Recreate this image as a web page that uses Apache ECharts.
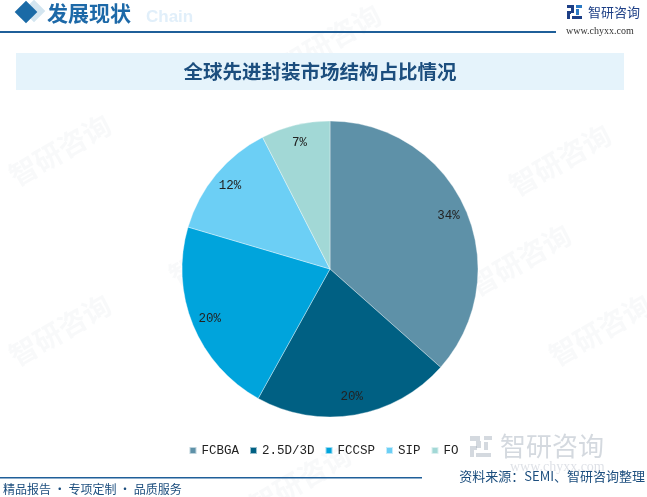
<!DOCTYPE html>
<html><head><meta charset="utf-8">
<script src="https://cdn.jsdelivr.net/npm/echarts@6/dist/echarts.min.js"></script>
<style>html,body{margin:0;padding:0;background:#fff}#c{width:647px;height:497px}</style>
</head><body><div id="c"></div>
<script>
var categories = ['FCBGA', '2.5D/3D', 'FCCSP', 'SIP', 'FO'];
var shares = [34, 20, 20, 12, 7];
var colors = ['#5e91a8', '#006083', '#00a4dc', '#6ccff5', '#a2d8d6'];
var titleText = '全球先进封装市场结构占比情况';
var sourceText = '资料来源：SEMI、智研咨询整理';

var chart = echarts.init(document.getElementById('c'), null, {renderer: 'canvas'});
var data = categories.map(function (n, i) { return {name: n, value: shares[i], itemStyle: {color: colors[i]}}; });
var labelData = categories.map(function (n, i) { return {name: n, value: shares[i]}; });

var wm = [];
[[60,150],[330,40],[560,160],[60,330],[300,480],[600,330],[220,250],[520,260]].forEach(function(p){
  wm.push({type:'text', x:p[0], y:p[1], rotation: Math.PI/6, silent:true, z:0,
    style:{text:'智研咨询', font:'bold 28px "Noto Sans CJK SC"', fill:'rgba(170,180,195,0.08)', textAlign:'center', textVerticalAlign:'middle'}});
});

var graphics = wm.concat([
  {type:'rect', x:34, y:11, shape:{x:-8,y:-8,width:16,height:16}, rotation:Math.PI/4, style:{fill:'#d3e5f0'}},
  {type:'rect', x:26, y:12, shape:{x:-8,y:-8,width:16,height:16}, rotation:Math.PI/4, style:{fill:'#1a6aa6'}},
  {type:'text', x:146, y:17, style:{text:'Chain', font:'bold 17px Arial', fill:'#e1effa', textVerticalAlign:'middle'}},
  {type:'text', x:47, y:13, style:{text:'发展现状', font:'bold 21px "Noto Sans CJK SC"', fill:'#1d69a8', textVerticalAlign:'middle'}},
  {type:'rect', shape:{x:0, y:31, width:556, height:2}, style:{fill:'#1f5f99'}},
  {type:'rect', shape:{x:567,y:5,width:7,height:3}, style:{fill:'#1d3f86'}},
  {type:'rect', shape:{x:571,y:8,width:3,height:5}, style:{fill:'#1d3f86'}},
  {type:'rect', shape:{x:567,y:11,width:4,height:3}, style:{fill:'#1d3f86'}},
  {type:'rect', shape:{x:567,y:14,width:3,height:5}, style:{fill:'#1d3f86'}},
  {type:'rect', shape:{x:576,y:5,width:6,height:3}, style:{fill:'#2a79c4'}},
  {type:'rect', shape:{x:576,y:9,width:3,height:6}, style:{fill:'#2a79c4'}},
  {type:'rect', shape:{x:572,y:16,width:10,height:3}, style:{fill:'#1d3f86'}},
  {type:'text', x:588, y:12, style:{text:'智研咨询', font:'13px "Noto Sans CJK SC"', fill:'#1d3f86', textVerticalAlign:'middle'}},
  {type:'text', x:566, y:31, style:{text:'www.chyxx.com', font:'10px "Liberation Serif"', fill:'#333', textVerticalAlign:'middle'}},
  {type:'rect', shape:{x:16, y:53, width:608, height:37}, style:{fill:'#e5f3fb'}},
  {type:'text', x:320, y:72, style:{text:titleText, font:'bold 19.5px "Noto Sans CJK SC"', fill:'#1c4e7e', textAlign:'center', textVerticalAlign:'middle'}},
  {type:'rect', shape:{x:470,y:436,width:10,height:5}, style:{fill:'rgba(160,170,185,0.45)'}},
  {type:'rect', shape:{x:476,y:441,width:5,height:7}, style:{fill:'rgba(160,170,185,0.45)'}},
  {type:'rect', shape:{x:470,y:446,width:7,height:4}, style:{fill:'rgba(160,170,185,0.45)'}},
  {type:'rect', shape:{x:470,y:450,width:4,height:7}, style:{fill:'rgba(160,170,185,0.45)'}},
  {type:'rect', shape:{x:476,y:453,width:15,height:4}, style:{fill:'rgba(160,170,185,0.45)'}},
  {type:'rect', shape:{x:484,y:436,width:8,height:4}, style:{fill:'rgba(160,170,185,0.45)'}},
  {type:'rect', shape:{x:484,y:442,width:4,height:8}, style:{fill:'rgba(160,170,185,0.45)'}},
  {type:'text', x:500, y:446, style:{text:'智研咨询', font:'26px "Noto Sans CJK SC"', fill:'rgba(160,170,185,0.45)', textVerticalAlign:'middle'}},
  {type:'text', x:510, y:467, style:{text:'www.chyxx.com', font:'14px "Liberation Serif"', fill:'rgba(160,170,185,0.35)', textVerticalAlign:'middle'}},
  {type:'rect', shape:{x:0, y:477, width:422, height:1.5}, style:{fill:'#1f5f99'}},
  {type:'text', x:3, y:489, style:{text:'精品报告 · 专项定制 · 品质服务', font:'12px "Noto Sans CJK SC"', fill:'#1c4e7e', textVerticalAlign:'middle'}},
  {type:'text', x:645, y:476, style:{text:sourceText, font:'13px "Noto Sans CJK SC"', fill:'#1c4e7e', textAlign:'right', textVerticalAlign:'middle'}}
]);

chart.setOption({
  animation: false,
  backgroundColor: '#fff',
  graphic: graphics,
  legend: {
    data: categories,
    left: 'center',
    top: 439,
    icon: 'rect',
    itemWidth: 7,
    itemHeight: 7,
    itemGap: 10,
    textStyle: {fontFamily: 'Liberation Mono', fontSize: 12.5, color: '#222'}
  },
  series: [
    {
      type: 'pie',
      center: [330, 269],
      radius: [0, 148],
      startAngle: 90,
      clockwise: true,
      label: {show: false},
      labelLine: {show: false},
      itemStyle: {borderColor: 'rgba(255,255,255,0.6)', borderWidth: 0.6},
      emphasis: {disabled: true},
      data: data
    },
    {
      type: 'pie',
      center: [330, 269],
      radius: [106, 148],
      startAngle: 90,
      clockwise: true,
      silent: true,
      itemStyle: {color: 'rgba(0,0,0,0)'},
      label: {show: true, position: 'inside', formatter: '{c}%', fontFamily: 'Liberation Mono', fontSize: 12.5, color: '#222'},
      labelLine: {show: false},
      emphasis: {disabled: true},
      data: labelData
    }
  ]
});
</script>
</body></html>
